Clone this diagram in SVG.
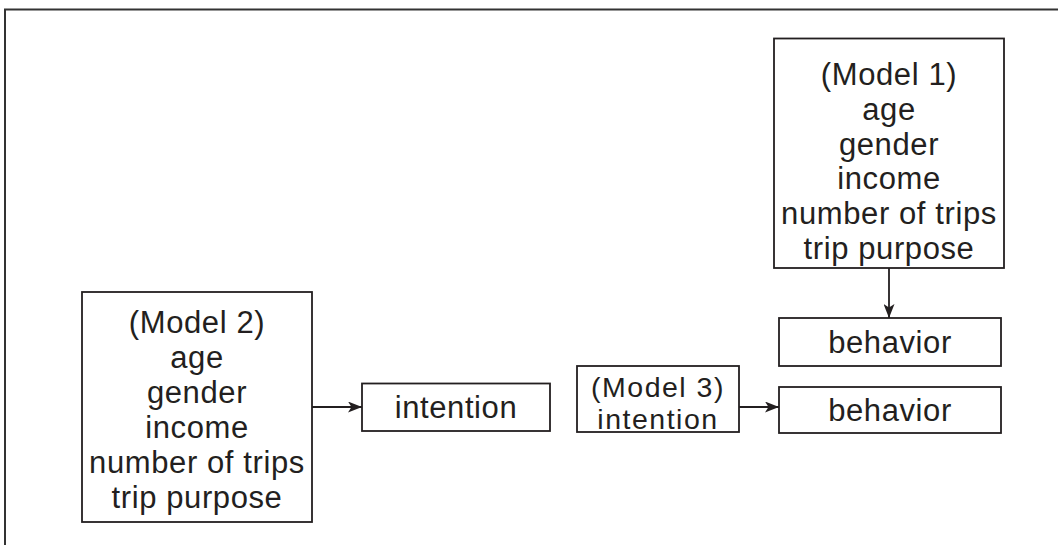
<svg xmlns="http://www.w3.org/2000/svg" width="1058" height="545" viewBox="0 0 1058 545">
<defs>
<style>
.box{fill:#fff;stroke:#231f20;stroke-width:1.8}
.t{font-family:"Liberation Sans",Arial,sans-serif;font-size:31px;letter-spacing:0.6px;fill:#231f20;text-anchor:middle}
.s{font-size:28.5px;letter-spacing:1.5px}
.c{stroke:#231f20;stroke-width:1.8;fill:none}
</style>
<marker id="ah" viewBox="0 0 14 11" refX="14" refY="5.5" markerWidth="14" markerHeight="11" markerUnits="userSpaceOnUse" orient="auto">
<path d="M0,0 L14,5.5 L0,11 L3.5,5.5 Z" fill="#231f20"/>
</marker>
</defs>
<rect width="1058" height="545" fill="#fff"/>
<path d="M5,560 V9.5 H1070" fill="none" stroke="#333" stroke-width="2"/>
<g id="model1">
<rect class="box" x="774" y="38.5" width="230" height="229.5"/>
<text class="t" x="889" y="85">(Model 1)<tspan x="889" dy="34.8">age</tspan><tspan x="889" dy="34.8">gender</tspan><tspan x="889" dy="34.8">income</tspan><tspan x="889" dy="34.8">number of trips</tspan><tspan x="889" dy="34.8">trip purpose</tspan></text>
</g>
<g id="model2">
<rect class="box" x="82" y="292" width="230" height="230"/>
<text class="t" x="197" y="333">(Model 2)<tspan x="197" dy="35">age</tspan><tspan x="197" dy="35">gender</tspan><tspan x="197" dy="35">income</tspan><tspan x="197" dy="35">number of trips</tspan><tspan x="197" dy="35">trip purpose</tspan></text>
</g>
<g id="intention">
<rect class="box" x="362" y="383.5" width="188" height="47.5"/>
<text class="t" x="456" y="418">intention</text>
</g>
<g id="model3">
<rect class="box" x="577" y="366" width="162" height="66"/>
<text class="t s" x="658" y="397">(Model 3)<tspan x="658" dy="32">intention</tspan></text>
</g>
<g id="behavior1">
<rect class="box" x="779" y="318" width="222" height="48"/>
<text class="t" x="890" y="353">behavior</text>
</g>
<g id="behavior2">
<rect class="box" x="779" y="387" width="222" height="46"/>
<text class="t" x="890" y="421">behavior</text>
</g>
<g id="connectors">
<line class="c" x1="312" y1="407" x2="362" y2="407" marker-end="url(#ah)"/>
<line class="c" x1="739" y1="407" x2="779" y2="407" marker-end="url(#ah)"/>
<line class="c" x1="889" y1="268" x2="889" y2="318" marker-end="url(#ah)"/>
</g>
</svg>
